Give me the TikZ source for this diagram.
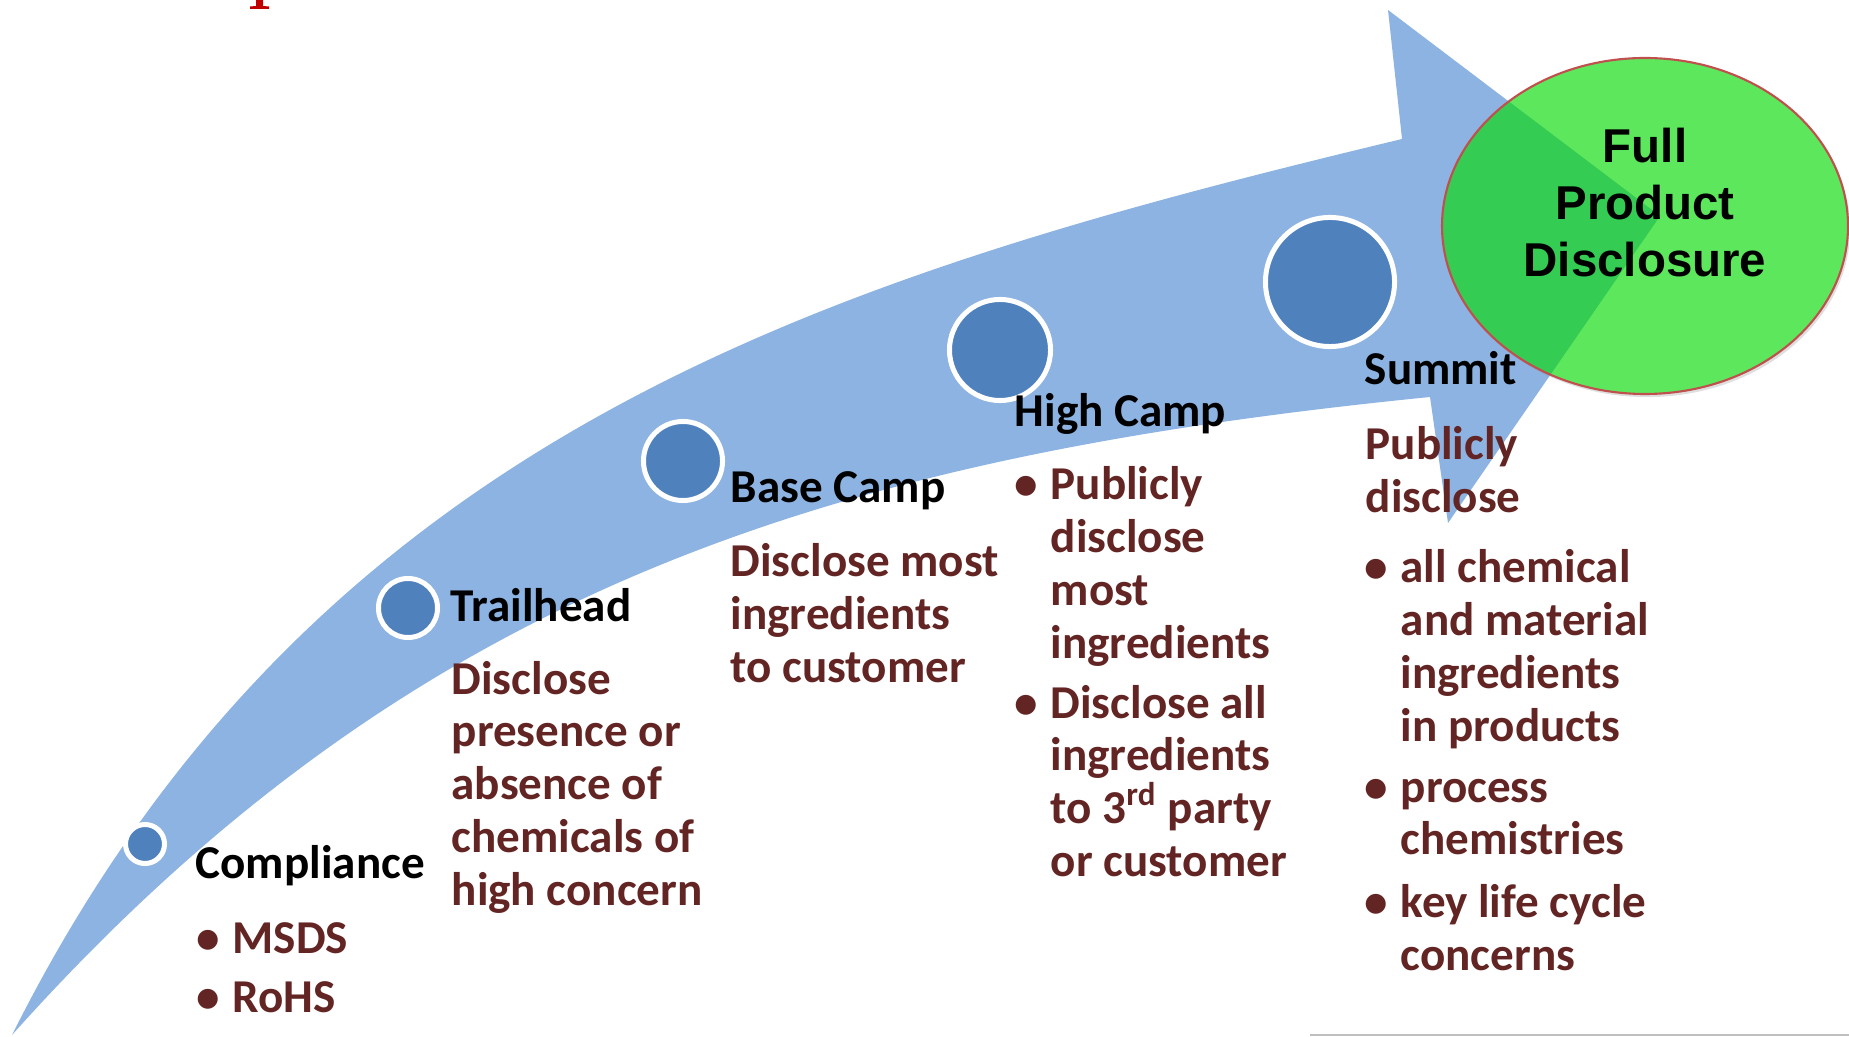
\documentclass[tikz,border=0pt]{standalone}
\usepackage{fontspec}
\setmainfont{Carlito}
\newfontfamily\goalfont{Liberation Sans}
\usetikzlibrary{shapes,positioning,shadows}

\definecolor{trailblue}{RGB}{141,179,226}
\definecolor{stopblue}{RGB}{79,129,189}
\definecolor{notered}{RGB}{99,37,35}
\definecolor{goalgreen}{RGB}{93,231,93}
\definecolor{overlapgreen}{RGB}{52,204,82}
\definecolor{rimred}{RGB}{192,80,77}
\definecolor{titlered}{RGB}{192,0,0}

\newcommand{\bul}{\leavevmode\llap{\makebox[0.36cm][l]{\textbullet}}}
\newcommand{\routeshape}{(12,1035) .. controls (315,430) and (832,276) .. (1402,139) -- (1388,10) -- (1660,216) -- (1448,523) -- (1430,397) .. controls (830,457) and (412,588) .. (12,1035) -- cycle}

\begin{document}
\begin{tikzpicture}[x=0.01cm, y=-0.01cm]
    \tikzstyle{station} = [circle, fill=stopblue, draw=white, line width=0.05cm, inner sep=0pt]
    \tikzstyle{camp} = [anchor=base west, inner sep=0pt, font=\fontsize{13.4}{15}\selectfont\bfseries]
    \tikzstyle{detail} = [camp, text width=3.2cm, align=flush left, text=notered]
    \tikzstyle{goal} = [ellipse, fill=goalgreen, minimum width=4.06cm, minimum height=3.36cm, inner sep=0pt]

    \useasboundingbox (0,0) rectangle (1849,1037);

    % cut-off title glyph and bottom rule
    \fill[titlered] (256,0) -- (263,0) -- (263,6) -- (269,6.5) -- (269,9) -- (250,9) -- (250,6.5) -- (256,6) -- cycle;
    \draw[black!25, line width=0.6pt] (1310,1035) -- (1849,1035);

    % the trail
    \fill[trailblue] \routeshape;

    \node [goal, drop shadow={opacity=0.25, shadow xshift=0.02cm, shadow yshift=-0.03cm}] (goal) at (1645,226) {};
    \begin{scope}
        \clip (goal.center) ellipse [x radius=203, y radius=168];
        \fill[overlapgreen] \routeshape;
    \end{scope}
    \draw[rimred, line width=0.6pt] (goal.center) ellipse [x radius=203, y radius=168];

    % stations
    \node [station, minimum size=0.39cm] (compliance) at (145,844) {};
    \node [station, minimum size=0.59cm] (trailhead) at (408,608) {};
    \node [station, minimum size=0.79cm] (basecamp) at (683,461) {};
    \node [station, minimum size=1.01cm] (highcamp) at (1000,350) {};
    \node [station, minimum size=1.29cm] (summit) at (1330,282) {};

    % headings
    \node [camp] (complianceT) at (195,878) {Compliance};
    \node [camp] (trailheadT) at (450,622) {Trailhead};
    \node [camp] (basecampT) at (730,503) {Base Camp};
    \node [camp] (highcampT) at (1014,427) {High Camp};
    \node [camp] (summitT) at (1364,385) {Summit};

    % what each stage discloses
    \node [detail] (complianceN) at (232,953) {\bul MSDS\\[0.07cm]\bul RoHS};
    \node [detail] (trailheadN) at (451,694) {Disclose\\presence or\\absence of\\chemicals of\\high concern};
    \node [detail] (basecampN) at (730,577) {Disclose most\\ingredients\\to customer};
    \node [detail] (highcampN) at (1050,500) {\bul Publicly\\disclose\\most\\ingredients\\[0.07cm]\bul Disclose all\\ingredients\\to 3\textsuperscript{rd} party\\or customer};
    \node [detail] (summitL) at (1365,460) {Publicly\\disclose};
    \node [detail] (summitN) at (1400,583) {\bul all chemical\\and material\\ingredients\\in products\\[0.08cm]\bul process\\chemistries\\[0.1cm]\bul key life cycle\\concerns};

    \node [anchor=base, text width=4cm, align=flush center, inner sep=0pt, font=\goalfont\fontsize{13.5}{16.2}\selectfont\bfseries] (goalT) at (1645,163) {Full\\Product\\Disclosure};
\end{tikzpicture}
\end{document}
